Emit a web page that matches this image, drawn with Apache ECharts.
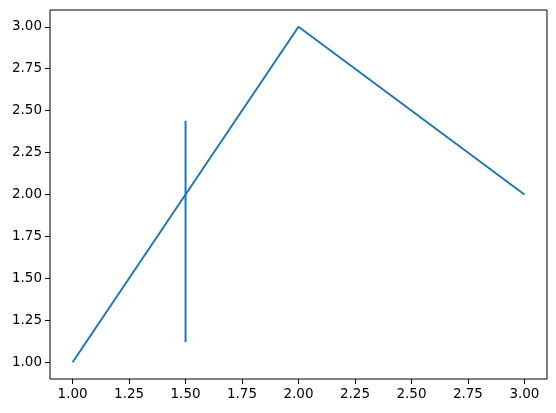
<!DOCTYPE html>
<html>
<head>
<meta charset="utf-8">
<script src="https://cdn.jsdelivr.net/npm/echarts@6/dist/echarts.min.js"></script>
<style>
  html, body { margin: 0; padding: 0; background: #fff; }
  #chart { width: 556px; height: 413px; }
</style>
</head>
<body>
<div id="chart"></div>
<script>
// main polyline
const lineX = [1, 2, 3];
const lineY = [1, 3, 2];
// vertical segment at x = 1.5
const vlineX = 1.5;
const vlineY = [1.12, 2.44];
// tick labels
const xTicks = [1.0, 1.25, 1.5, 1.75, 2.0, 2.25, 2.5, 2.75, 3.0];
const yTicks = [1.0, 1.25, 1.5, 1.75, 2.0, 2.25, 2.5, 2.75, 3.0];

const color = '#1f77b4';
const font = { fontFamily: 'DejaVu Sans', fontSize: 13.5, color: '#000' };

const chart = echarts.init(document.getElementById('chart'), null, {renderer: 'canvas'});
chart.setOption({
    animation: false,
    grid: {
        left: 50, right: 9, top: 10, bottom: 34,
        show: true, borderColor: '#000', borderWidth: 1
    },
    xAxis: {
        type: 'value', min: 0.9, max: 3.1,
        axisLine: {show: false},
        axisTick: {show: true, length: 5, lineStyle: {color: '#000'}, customValues: xTicks},
        axisLabel: Object.assign({margin: 8, customValues: xTicks,
            formatter: v => v.toFixed(2)}, font),
        splitLine: {show: false}
    },
    yAxis: {
        type: 'value', min: 0.9, max: 3.1,
        axisLine: {show: false},
        axisTick: {show: true, length: 5, lineStyle: {color: '#000'}, customValues: yTicks},
        axisLabel: Object.assign({margin: 8, customValues: yTicks,
            formatter: v => v.toFixed(2)}, font),
        splitLine: {show: false}
    },
    series: [
        {
            type: 'line',
            data: lineX.map((x, i) => [x, lineY[i]]),
            showSymbol: false,
            lineStyle: {color: color, width: 2}
        },
        {
            type: 'line',
            data: vlineY.map(y => [vlineX, y]),
            showSymbol: false,
            lineStyle: {color: color, width: 2}
        }
    ]
});
</script>
</body>
</html>
